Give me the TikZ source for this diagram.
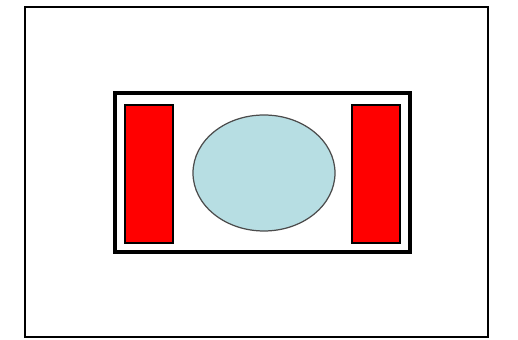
\documentclass[tikz,border=0pt]{standalone}
\usepackage{tikz}
\definecolor{lightcyan}{RGB}{183,222,227}
\definecolor{pureRed}{RGB}{255,0,0}

\begin{document}
\begin{tikzpicture}[x=0.02cm, y=-0.02cm,
    frame/.style={draw=black, line width=1.5pt},
    block/.style={draw=black, fill=pureRed, line width=0.7pt},
    core/.style={draw=black!70, fill=lightcyan, line width=0.7pt}]
  \useasboundingbox (0,0) rectangle (518,340);
  % outer and inner frames
  \draw[frame] (25,7) rectangle (488,337);
  \draw[frame, line width=1.8pt] (115,93) rectangle (410,252);
  % red side blocks
  \draw[block] (125,105) rectangle (173,243);
  \draw[block] (352,105) rectangle (400,243);
  % centre ellipse
  \draw[core] (264,173) ellipse (71 and 58);
\end{tikzpicture}
\end{document}
